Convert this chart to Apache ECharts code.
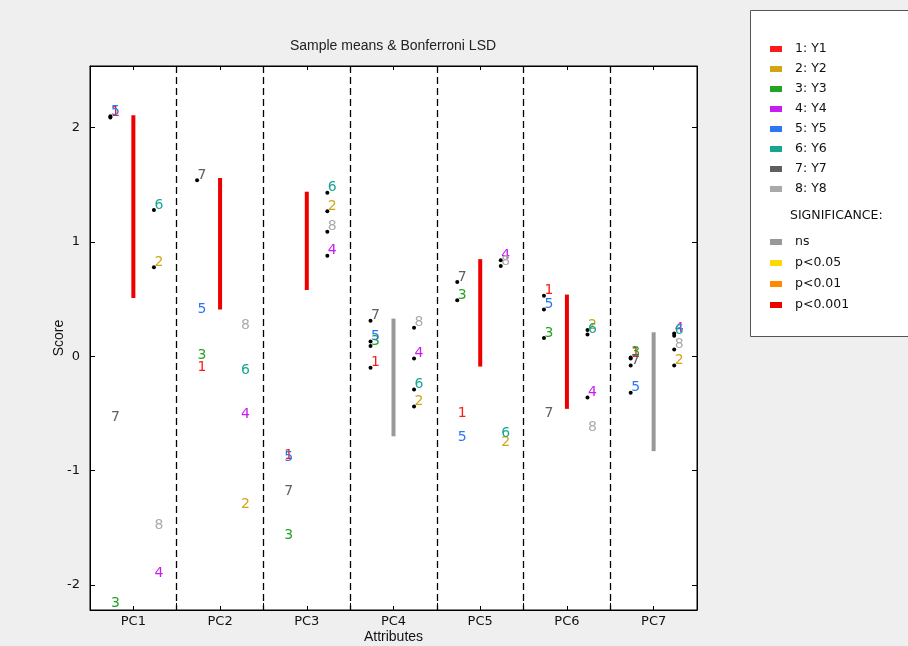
<!DOCTYPE html>
<html>
<head>
<meta charset="utf-8">
<title>Sample means &amp; Bonferroni LSD</title>
<script src="https://cdn.jsdelivr.net/npm/echarts@6.0.0/dist/echarts.min.js"></script>
<style>
  html, body { margin: 0; padding: 0; background: #efefef; }
  #chart { width: 908px; height: 646px; }
</style>
</head>
<body>
<div id="chart"></div>
<script>
// Principal components on the x axis
const categories = ['PC1', 'PC2', 'PC3', 'PC4', 'PC5', 'PC6', 'PC7'];
const yTicks = [-2, -1, 0, 1, 2];

// Products and their colours
const itemNames = ['1: Y1', '2: Y2', '3: Y3', '4: Y4', '5: Y5', '6: Y6', '7: Y7', '8: Y8'];
const itemLabels = ['1', '2', '3', '4', '5', '6', '7', '8'];
const itemColors = ['#ff1a1a', '#d1a514', '#23a323', '#c81cf0', '#2a78f0', '#17a593', '#5f5f5f', '#aaaaaa'];

// Sample mean scores per product, PC1..PC7
const meansY1 = [2.09, -0.14, -0.91, -0.10, -0.54, 0.53, -0.02];
const meansY2 = [0.78, -1.34, 1.27, -0.44, -0.80, 0.23, -0.08];
const meansY3 = [-2.21, -0.04, -1.61, 0.09, 0.49, 0.16, -0.01];
const meansY4 = [-1.94, -0.55, 0.88, -0.02, 0.84, -0.36, 0.20];
const meansY5 = [2.10, 0.37, -0.93, 0.13, -0.75, 0.41, -0.32];
const meansY6 = [1.28, -0.17, 1.43, -0.29, -0.72, 0.19, 0.18];
const meansY7 = [-0.58, 1.54, -1.23, 0.31, 0.65, -0.54, -0.08];
const meansY8 = [-1.52, 0.23, 1.09, 0.25, 0.79, -0.67, 0.06];
const itemMeans = [meansY1, meansY2, meansY3, meansY4, meansY5, meansY6, meansY7, meansY8];

// Bonferroni LSD interval per PC, hanging from the highest mean
const lsdHigh = [2.11, 1.56, 1.44, 0.33, 0.85, 0.54, 0.21];
const lsdLow = [0.51, 0.41, 0.58, -0.70, -0.09, -0.46, -0.83];
const lsdLevel = ['p<0.001', 'p<0.001', 'p<0.001', 'ns', 'p<0.001', 'p<0.001', 'ns'];

const sigNames = ['ns', 'p<0.05', 'p<0.01', 'p<0.001'];
const sigColors = ['#999999', '#ffd800', '#ff8a00', '#ee0000'];

// Odd products sit left of the LSD bar, even products right of it
const leftOffset = -0.265;
const rightOffset = 0.237;

const chart = echarts.init(document.getElementById('chart'));

const series = [];

sigNames.forEach((name, s) => {
  const data = [];
  categories.forEach((c, i) => {
    if (lsdLevel[i] === name) data.push([i + 0.5, lsdLow[i], lsdHigh[i]]);
  });
  series.push({
    type: 'custom',
    name: name,
    xAxisIndex: 0,
    yAxisIndex: 0,
    itemStyle: { color: sigColors[s] },
    encode: { x: 0, y: [1, 2] },
    data: data,
    renderItem: function (params, api) {
      const x = api.value(0);
      const lo = api.coord([x, api.value(1)]);
      const hi = api.coord([x, api.value(2)]);
      return {
        type: 'line',
        shape: { x1: lo[0], y1: lo[1], x2: hi[0], y2: hi[1] },
        style: { stroke: sigColors[s], lineWidth: 4 }
      };
    }
  });
});

itemNames.forEach((name, k) => {
  const offset = (k % 2 === 0) ? leftOffset : rightOffset;
  series.push({
    type: 'custom',
    name: name,
    xAxisIndex: 0,
    yAxisIndex: 0,
    itemStyle: { color: itemColors[k] },
    encode: { x: 0, y: 1 },
    data: categories.map((c, i) => {
      const v = itemMeans[k][i];
      // a dot marks means not significantly below the top mean
      return [i + 0.5 + offset, v, v >= lsdLow[i] ? 1 : 0];
    }),
    renderItem: function (params, api) {
      const p = api.coord([api.value(0), api.value(1)]);
      const children = [];
      if (api.value(2) === 1) {
        children.push({
          type: 'circle',
          shape: { cx: p[0], cy: p[1], r: 2 },
          style: { fill: '#000' }
        });
      }
      children.push({
        type: 'text',
        x: p[0] + 0.5,
        y: p[1] - 5,
        style: {
          text: itemLabels[k],
          fill: itemColors[k],
          font: '14px "DejaVu Sans"',
          textAlign: 'left',
          textVerticalAlign: 'middle'
        }
      });
      return { type: 'group', children: children };
    }
  });
});

const legendText = {
  fontFamily: 'DejaVu Sans',
  fontSize: 12.5,
  color: '#111',
  lineHeight: 14,
  padding: [0, 0, 0, 8]
};

const option = {
  backgroundColor: '#efefef',
  animation: false,
  grid: {
    left: 90, right: 211, top: 66, bottom: 36,
    outerBoundsMode: 'none',
    show: true, backgroundColor: '#ffffff', borderColor: '#000', borderWidth: 1
  },
  graphic: [
    {
      type: 'rect', z: 0,
      shape: { x: 750.5, y: 10.5, width: 180, height: 326 },
      style: { fill: '#ffffff', stroke: '#555', lineWidth: 1 }
    },
    {
      type: 'text', z: 1, x: 790, y: 216,
      style: { text: 'SIGNIFICANCE:', font: '12.5px "DejaVu Sans"', fill: '#111', textVerticalAlign: 'middle' }
    },
    {
      type: 'text', z: 1, x: 393, y: 46,
      style: {
        text: 'Sample means & Bonferroni LSD', font: '14px "Liberation Sans"', fill: '#222',
        textAlign: 'center', textVerticalAlign: 'middle'
      }
    }
  ],
  legend: [
    {
      data: itemNames, orient: 'vertical', left: 765, top: 37, z: 10,
      icon: 'rect', itemWidth: 12, itemHeight: 6, itemGap: 6,
      selectedMode: false, textStyle: legendText
    },
    {
      data: sigNames, orient: 'vertical', left: 765, top: 230, z: 10,
      icon: 'rect', itemWidth: 12, itemHeight: 6, itemGap: 7,
      selectedMode: false, textStyle: legendText
    }
  ],
  xAxis: [
    {
      type: 'value', min: 0, max: 7, interval: 1, position: 'bottom',
      axisLine: { show: false, onZero: false },
      axisTick: { show: true, inside: true, length: 7, lineStyle: { color: '#000' } },
      axisLabel: { show: false },
      splitLine: {
        show: true, showMinLine: false, showMaxLine: false,
        lineStyle: { color: '#000', type: [7, 4], width: 1.3 }
      }
    },
    {
      type: 'category', data: categories, position: 'bottom', boundaryGap: true,
      axisLine: { show: true, onZero: false, lineStyle: { color: '#000' } },
      axisTick: { show: true, inside: true, alignWithLabel: true, length: 4, lineStyle: { color: '#000' } },
      axisLabel: { fontFamily: 'DejaVu Sans', fontSize: 13, color: '#111', margin: 5 },
      splitLine: { show: false },
      name: 'Attributes', nameLocation: 'middle', nameGap: 20, nameMoveOverlap: false,
      nameTextStyle: { fontFamily: 'Liberation Sans', fontSize: 14, color: '#111' }
    },
    {
      type: 'value', min: 0, max: 7, interval: 1, position: 'top',
      axisLine: { show: true, onZero: false, lineStyle: { color: '#000' } },
      axisTick: { show: true, inside: true, length: 7, lineStyle: { color: '#000' } },
      axisLabel: { show: false },
      splitLine: { show: false }
    },
    {
      type: 'category', data: categories, position: 'top', boundaryGap: true,
      axisLine: { show: false, onZero: false },
      axisTick: { show: true, inside: true, alignWithLabel: true, length: 4, lineStyle: { color: '#000' } },
      axisLabel: { show: false },
      splitLine: { show: false }
    }
  ],
  yAxis: [
    {
      type: 'value', min: -2.22, max: 2.54, position: 'left',
      name: 'Score', nameLocation: 'middle', nameGap: 24, nameMoveOverlap: false,
      nameTextStyle: { fontFamily: 'Liberation Sans', fontSize: 14, color: '#111' },
      axisLine: { show: true, onZero: false, lineStyle: { color: '#000' } },
      axisTick: { show: true, inside: true, length: 5, customValues: yTicks, lineStyle: { color: '#000' } },
      axisLabel: { customValues: yTicks, fontFamily: 'DejaVu Sans', fontSize: 13, color: '#111', margin: 10 },
      splitLine: { show: false }
    },
    {
      type: 'value', min: -2.22, max: 2.54, position: 'right',
      axisLine: { show: true, onZero: false, lineStyle: { color: '#000' } },
      axisTick: { show: true, inside: true, length: 5, customValues: yTicks, lineStyle: { color: '#000' } },
      axisLabel: { show: false },
      splitLine: { show: false }
    }
  ],
  series: series
};

chart.setOption(option);
</script>
</body>
</html>
